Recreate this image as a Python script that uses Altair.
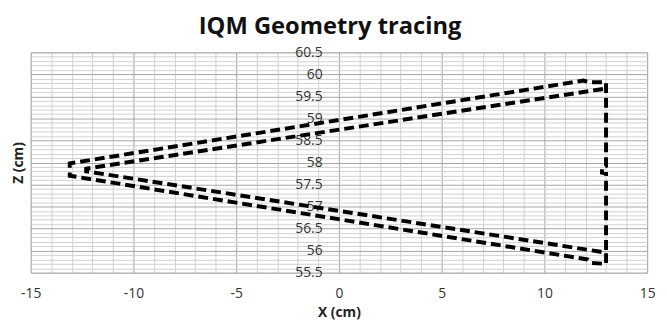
import altair as alt
import pandas as pd

# traced path (X cm, Z cm), in drawing order
path_x = [12.85, -12.3, -12.3, 12.65, 13.0, 13.0, 12.3, 12.1, -13.1, -13.1,
          11.9, 12.2, 13.0, 13.0, 12.8, 12.8, 13.0, 13.0]
path_z = [59.67, 57.86, 57.80, 55.98, 55.95, 55.70, 55.72, 55.80, 57.70, 57.98,
          59.86, 59.82, 59.82, 57.92, 57.88, 57.77, 57.75, 55.95]

x_ticks = list(range(-15, 16))
y_ticks = [round(55.5 + 0.1 * i, 1) for i in range(51)]

df = pd.DataFrame({"x": path_x, "z": path_z, "order": list(range(len(path_x)))})

FONT = "Open Sans"
W, H = 624, 223

xscale = alt.Scale(domain=[-15, 15], nice=False, zero=False)
yscale = alt.Scale(domain=[55.5, 60.5], nice=False, zero=False)

x_axis = alt.Axis(
    values=x_ticks,
    labelExpr="datum.value % 5 === 0 ? toString(datum.value) : ''",
    labelFlush=False,
    grid=True,
    gridColor={"condition": {"test": "datum.value % 5 === 0", "value": "#a6a6a6"}, "value": "#d0d0d0"},
    gridWidth=1,
    domain=False,
    ticks=False,
    labelPadding=14,
    labelFont=FONT,
    labelFontSize=14,
    labelColor="#333333",
    title="X (cm)",
    titleFont=FONT,
    titleFontSize=14,
    titleFontWeight="bold",
    titleColor="#222222",
    titlePadding=5,
)

y_axis_grid = alt.Axis(
    values=y_ticks,
    labels=False,
    grid=True,
    gridColor={"condition": {"test": "abs(datum.value*2 - round(datum.value*2)) < 0.001", "value": "#a6a6a6"}, "value": "#d0d0d0"},
    gridWidth=1,
    domain=False,
    ticks=False,
    orient="left",
    title="Z (cm)",
    titleFont=FONT,
    titleFontSize=14,
    titleFontWeight="bold",
    titleColor="#222222",
    titlePadding=5,
)

y_axis_labels = alt.Axis(
    values=[v for v in y_ticks if abs(v * 2 - round(v * 2)) < 1e-6],
    labelExpr="toString(round(datum.value*10)/10)",
    labelFlush=False,
    grid=False,
    domain=False,
    ticks=False,
    orient="left",
    offset=-W / 2,
    labelPadding=17,
    labelFont=FONT,
    labelFontSize=14,
    labelColor="#333333",
    title=None,
)

line = alt.Chart(df).mark_line(
    color="black", strokeWidth=4, strokeDash=[10, 5], clip=False
).encode(
    x=alt.X("x:Q", scale=xscale, axis=x_axis),
    y=alt.Y("z:Q", scale=yscale, axis=y_axis_grid),
    order="order:Q",
)

labels_layer = alt.Chart(df).mark_point(opacity=0).encode(
    x=alt.X("x:Q", scale=xscale, axis=x_axis),
    y=alt.Y("z:Q", scale=yscale, axis=y_axis_labels),
)

chart = alt.layer(line, labels_layer).resolve_axis(y="independent").properties(
    width=W,
    height=H,
    autosize=alt.AutoSizeParams(type="none"),
    padding={"left": 23, "top": 43, "right": 12, "bottom": 46},
    title=alt.Title(
        "IQM Geometry tracing",
        font=FONT,
        fontSize=24,
        fontWeight="bold",
        color="#111111",
        anchor="middle",
        baseline="alphabetic",
        offset=12,
        dx=-9,
        dy=24,
    ),
).configure_view(stroke="#d0d0d0")

chart.save("out.html", embed_options={"renderer": "svg", "actions": False})
